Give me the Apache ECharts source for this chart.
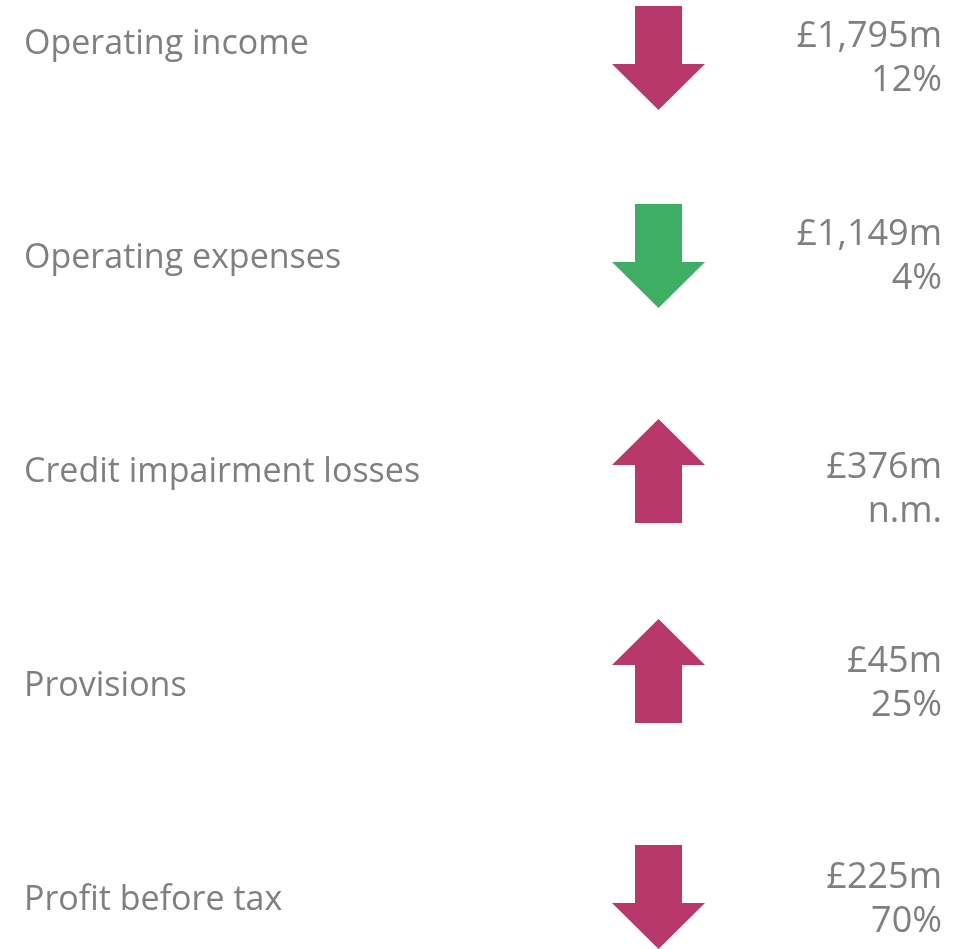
<!DOCTYPE html>
<html>
<head>
<meta charset="utf-8">
<script src="https://cdn.jsdelivr.net/npm/echarts@6/dist/echarts.min.js"></script>
<style>
  html, body { margin: 0; padding: 0; background: #fff; }
  #chart { width: 971px; height: 949px; }
</style>
</head>
<body>
<div id="chart"></div>
<script>
  // 指标
  const metrics = ['Operating income', 'Operating expenses', 'Credit impairment losses', 'Provisions', 'Profit before tax']
  const amounts = ['£1,795m', '£1,149m', '£376m', '£45m', '£225m']
  const changes = ['12%', '4%', 'n.m.', '25%', '70%']
  const direction = ['down', 'down', 'up', 'up', 'down']
  const favourable = [false, true, false, false, false]

  // 版式微调（像素）
  const arrowNudge = [14, -2, -1, -15, -3]
  const labelNudge = [1, 1, 19, 13, 3]

  const textColor = '#7f7f7f'
  const badColor = '#b9386c'
  const goodColor = '#3eae64'
  const fontFamily = '"Open Sans", "Noto Sans", sans-serif'

  // 向下箭头，向上时旋转180度
  const arrowPath = 'path://M23,0 L70,0 L70,58 L93,58 L46.5,104 L0,58 L23,58 Z'

  const chart = echarts.init(document.getElementById('chart'))

  const seriesData = metrics.map((name, i) => {
    return {
      value: ['change', name],
      symbolRotate: direction[i] === 'up' ? 180 : 0,
      symbolOffset: [0, arrowNudge[i]],
      itemStyle: {color: favourable[i] ? goodColor : badColor, opacity: 1},
      label: {formatter: amounts[i] + '\n' + changes[i], offset: [0, labelNudge[i]]}
    }
  })

  const option = {
    animation: false,
    grid: {
      left: 612,
      right: 266,
      top: 44,
      bottom: 49,
      containLabel: false
    },
    xAxis: {
      type: 'category',
      data: ['change'],
      show: false
    },
    yAxis: {
      type: 'category',
      data: metrics,
      inverse: true,
      boundaryGap: false,
      axisLine: {show: false},
      axisTick: {show: false},
      splitLine: {show: false},
      axisLabel: {
        align: 'left',
        margin: 588,
        color: textColor,
        fontSize: 34,
        fontFamily: fontFamily
      }
    },
    series: [{
      type: 'scatter',
      symbol: arrowPath,
      symbolSize: [93, 104],
      clip: false,
      data: seriesData,
      emphasis: {disabled: true},
      label: {
        show: true,
        position: 'right',
        distance: 237,
        align: 'right',
        color: textColor,
        opacity: 1,
        fontSize: 36,
        lineHeight: 44,
        fontFamily: fontFamily
      }
    }]
  }
  chart.setOption(option)
</script>
</body>
</html>
